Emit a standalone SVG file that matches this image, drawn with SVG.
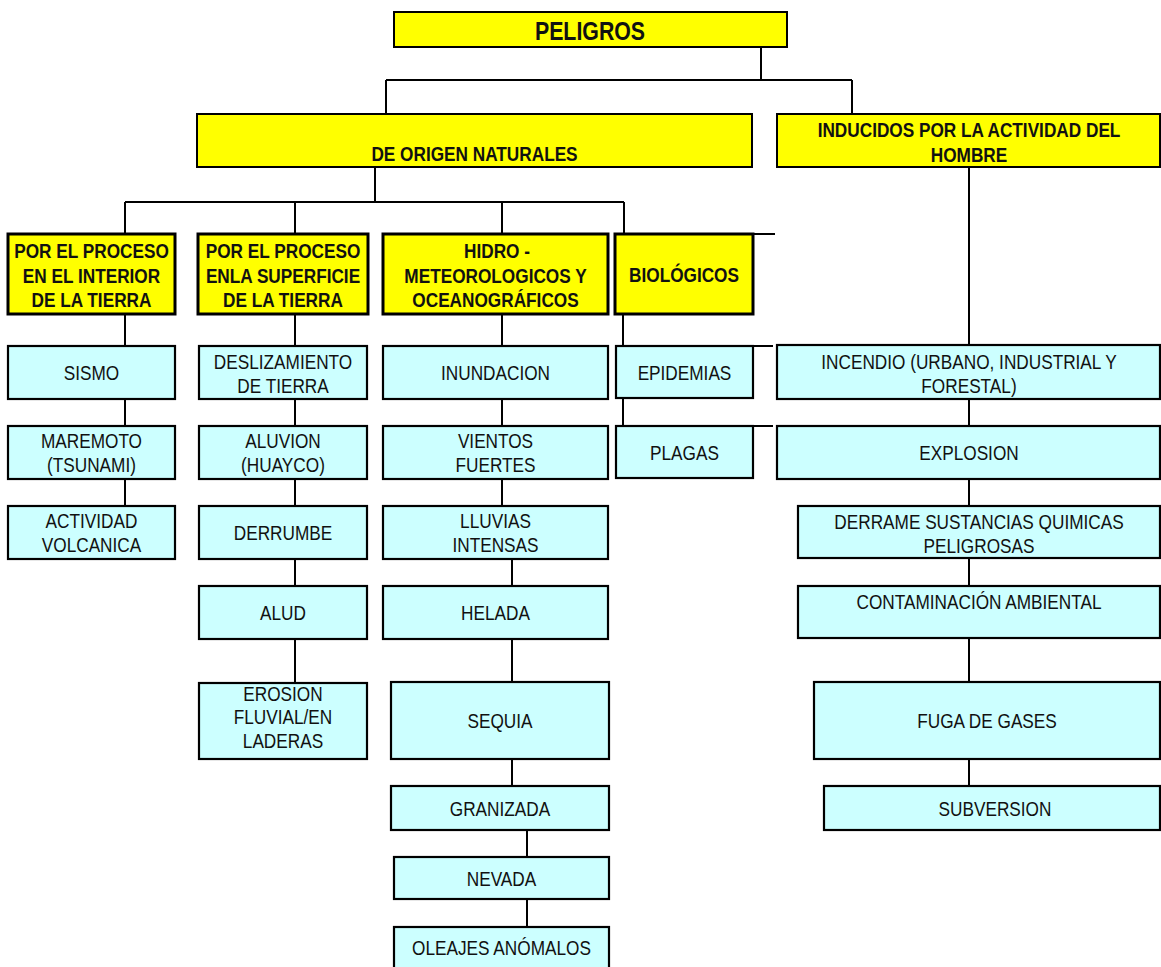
<svg xmlns="http://www.w3.org/2000/svg" width="1161" height="967" viewBox="0 0 1161 967">
<style>
  .bg { fill: #ffffff; }
  .y { fill: #ffff00; stroke: #000; stroke-width: 2; }
  .yk { fill: #ffff00; stroke: #000; stroke-width: 3; }
  .b { fill: #ccffff; stroke: #000; stroke-width: 2.2; }
  .c { fill: none; stroke: #000; stroke-width: 2; }
  text { font-family: "Liberation Sans", Arial, sans-serif; font-size: 21px; fill: #111; text-anchor: middle; transform-box: fill-box; transform-origin: center; transform: scaleX(0.82); }
  .tb { font-weight: bold; }
  .big { font-size: 26px; font-weight: bold; }
</style>
<rect class="bg" x="0" y="0" width="1161" height="967"/>
<g id="connectors">
  <path class="c" d="M761 47 V80 M386 80 H852 M386 80 V114 M852 80 V114"/>
  <path class="c" d="M375 167 V202 M125 202 H624 M125 202 V234 M295 202 V234 M502 202 V234 M624 202 V234"/>
  <path class="c" d="M969 167 V345"/>
  <path class="c" d="M125 314 V346 M125 399 V426 M125 479 V506"/>
  <path class="c" d="M295 314 V346 M295 399 V426 M295 479 V506 M295 559 V586 M295 639 V683"/>
  <path class="c" d="M502 314 V346 M502 399 V426 M502 479 V506 M512 559 V586 M512 639 V682 M512 759 V786 M527 830 V857 M527 899 V927"/>
  <path class="c" d="M623 314 V346 M623 398 V426 M753 234 H775 M753 346 H773 M753 426 H773"/>
  <path class="c" d="M969 399 V426 M969 479 V506 M969 558 V586 M969 638 V682 M969 759 V786"/>
</g>
<g id="peligros"><rect class="y" x="394" y="12" width="393" height="35"/><text class="big" x="590" y="40">PELIGROS</text></g>
<g id="naturales"><rect class="y" x="197" y="114" width="555" height="53"/><text class="tb" x="474.5" y="161">DE ORIGEN NATURALES</text></g>
<g id="inducidos"><rect class="y" x="777" y="114" width="383" height="53"/><text class="tb" x="969" y="137">INDUCIDOS POR LA ACTIVIDAD DEL</text><text class="tb" x="969" y="162">HOMBRE</text></g>
<g id="interior"><rect class="yk" x="8" y="234" width="167" height="80"/><text class="tb" x="91.5" y="258">POR EL PROCESO</text><text class="tb" x="91.5" y="283">EN EL INTERIOR</text><text class="tb" x="91.5" y="307">DE LA TIERRA</text></g>
<g id="superficie"><rect class="yk" x="198" y="234" width="170" height="80"/><text class="tb" x="283" y="258">POR EL PROCESO</text><text class="tb" x="283" y="283">ENLA SUPERFICIE</text><text class="tb" x="283" y="307">DE LA TIERRA</text></g>
<g id="hidro"><rect class="yk" x="383" y="234" width="225" height="80"/><text class="tb" x="497" y="258">HIDRO -</text><text class="tb" x="495.5" y="283">METEOROLOGICOS Y</text><text class="tb" x="495.5" y="307">OCEANOGRÁFICOS</text></g>
<g id="biologicos"><rect class="yk" x="615" y="234" width="138" height="80"/><text class="tb" x="684" y="282">BIOLÓGICOS</text></g>
<g id="sismo"><rect class="b" x="8" y="346" width="167" height="53"/><text x="91.5" y="380">SISMO</text></g>
<g id="maremoto"><rect class="b" x="8" y="426" width="167" height="53"/><text x="91.5" y="448">MAREMOTO</text><text x="91.5" y="472">(TSUNAMI)</text></g>
<g id="volcanica"><rect class="b" x="8" y="506" width="167" height="53"/><text x="91.5" y="528">ACTIVIDAD</text><text x="91.5" y="552">VOLCANICA</text></g>
<g id="deslizamiento"><rect class="b" x="199" y="346" width="168" height="53"/><text x="283" y="369">DESLIZAMIENTO</text><text x="283" y="393">DE TIERRA</text></g>
<g id="aluvion"><rect class="b" x="199" y="426" width="168" height="53"/><text x="283" y="448">ALUVION</text><text x="283" y="472">(HUAYCO)</text></g>
<g id="derrumbe"><rect class="b" x="199" y="506" width="168" height="53"/><text x="283" y="540">DERRUMBE</text></g>
<g id="alud"><rect class="b" x="199" y="586" width="168" height="53"/><text x="283" y="620">ALUD</text></g>
<g id="erosion"><rect class="b" x="199" y="683" width="168" height="76"/><text x="283" y="701">EROSION</text><text x="283" y="724">FLUVIAL/EN</text><text x="283" y="748">LADERAS</text></g>
<g id="inundacion"><rect class="b" x="383" y="346" width="225" height="53"/><text x="495.5" y="380">INUNDACION</text></g>
<g id="vientos"><rect class="b" x="383" y="426" width="225" height="53"/><text x="495.5" y="448">VIENTOS</text><text x="495.5" y="472">FUERTES</text></g>
<g id="lluvias"><rect class="b" x="383" y="506" width="225" height="53"/><text x="495.5" y="528">LLUVIAS</text><text x="495.5" y="552">INTENSAS</text></g>
<g id="helada"><rect class="b" x="383" y="586" width="225" height="53"/><text x="495.5" y="620">HELADA</text></g>
<g id="sequia"><rect class="b" x="391" y="682" width="218" height="77"/><text x="500" y="728">SEQUIA</text></g>
<g id="granizada"><rect class="b" x="391" y="786" width="218" height="44"/><text x="500" y="816">GRANIZADA</text></g>
<g id="nevada"><rect class="b" x="394" y="857" width="215" height="42"/><text x="501.5" y="886">NEVADA</text></g>
<g id="oleajes"><rect class="b" x="394" y="927" width="215" height="50"/><text x="501.5" y="955">OLEAJES ANÓMALOS</text></g>
<g id="epidemias"><rect class="b" x="616" y="346" width="137" height="52"/><text x="684.5" y="380">EPIDEMIAS</text></g>
<g id="plagas"><rect class="b" x="616" y="426" width="137" height="52"/><text x="684.5" y="460">PLAGAS</text></g>
<g id="incendio"><rect class="b" x="777" y="345" width="383" height="54"/><text x="969" y="369">INCENDIO (URBANO, INDUSTRIAL Y</text><text x="969" y="393">FORESTAL)</text></g>
<g id="explosion"><rect class="b" x="777" y="426" width="383" height="53"/><text x="969" y="460">EXPLOSION</text></g>
<g id="derrame"><rect class="b" x="798" y="506" width="362" height="52"/><text x="979" y="529">DERRAME SUSTANCIAS QUIMICAS</text><text x="979" y="553">PELIGROSAS</text></g>
<g id="contaminacion"><rect class="b" x="798" y="586" width="362" height="52"/><text x="979" y="609">CONTAMINACIÓN AMBIENTAL</text></g>
<g id="fuga"><rect class="b" x="814" y="682" width="346" height="77"/><text x="987" y="728">FUGA DE GASES</text></g>
<g id="subversion"><rect class="b" x="824" y="786" width="336" height="44"/><text x="995" y="816">SUBVERSION</text></g>
</svg>
